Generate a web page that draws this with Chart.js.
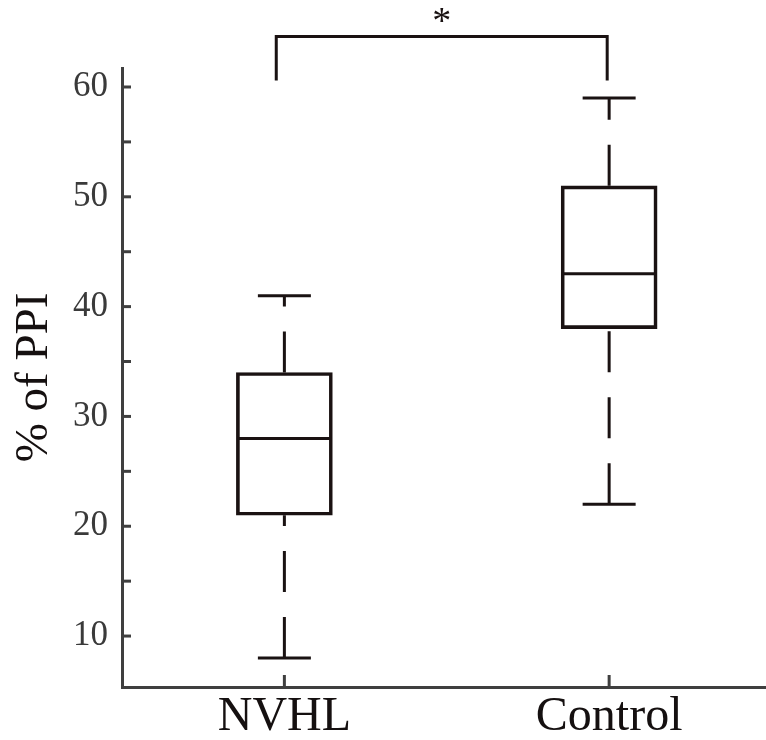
<!DOCTYPE html>
<html><head><meta charset="utf-8">
<script src="https://cdn.jsdelivr.net/npm/chart.js@4/dist/chart.umd.min.js"></script>
<style>html,body{margin:0;padding:0;background:#fff;overflow:hidden}#wrap{width:766px;height:740px}</style>
</head><body><div id="wrap"><canvas id="c" width="766" height="740"></canvas></div>
<script>
// ---- data ----
const categories = ['NVHL', 'Control'];
const whiskerLow  = [8, 22];
const quartile1   = [21, 38];
const medians     = [28, 43];
const quartile3   = [34, 51];
const whiskerHigh = [41, 59];
const yTickValues = [10, 15, 20, 25, 30, 35, 40, 45, 50, 55, 60];
const yLabelStep = 10;
const sigPair = [0, 1];
const sigLabel = '*';

// ---- style ----
const LINE = '#1a1212';
const AXIS = '#3f3f3f';
const SERIF = "'Liberation Serif', 'Times New Roman', serif";
const BOX_W = 96, CAP_W = 53, DASH = [41, 25];
const SIG_TOP = 64.6, SIG_BOTTOM = 60.6, SIG_DX = -0.025;

const boxParts = {
  id: 'boxParts',
  afterDatasetsDraw(chart) {
    const {ctx, scales: {x, y}, chartArea} = chart;
    ctx.save();
    // inward ticks
    ctx.strokeStyle = AXIS; ctx.lineWidth = 3; ctx.lineCap = 'butt';
    y.ticks.forEach(t => {
      const py = y.getPixelForValue(t.value);
      ctx.beginPath(); ctx.moveTo(chartArea.left, py); ctx.lineTo(chartArea.left + 9, py); ctx.stroke();
    });
    x.ticks.forEach(t => {
      const px = x.getPixelForValue(t.value);
      ctx.beginPath(); ctx.moveTo(px, chartArea.bottom); ctx.lineTo(px, chartArea.bottom - 12); ctx.stroke();
    });
    // box parts
    ctx.strokeStyle = LINE; ctx.lineWidth = 3;
    categories.forEach((c, i) => {
      const px = x.getPixelForValue(i + 1);
      const ym = y.getPixelForValue(medians[i]);
      ctx.beginPath(); ctx.moveTo(px - BOX_W / 2 + 1, ym); ctx.lineTo(px + BOX_W / 2 - 1, ym); ctx.stroke();
      ctx.setLineDash(DASH);
      ctx.beginPath(); ctx.moveTo(px, y.getPixelForValue(whiskerLow[i])); ctx.lineTo(px, y.getPixelForValue(quartile1[i])); ctx.stroke();
      ctx.beginPath(); ctx.moveTo(px, y.getPixelForValue(quartile3[i])); ctx.lineTo(px, y.getPixelForValue(whiskerHigh[i])); ctx.stroke();
      ctx.setLineDash([]);
      [whiskerLow[i], whiskerHigh[i]].forEach(v => {
        const pv = y.getPixelForValue(v);
        ctx.beginPath(); ctx.moveTo(px - CAP_W / 2, pv); ctx.lineTo(px + CAP_W / 2, pv); ctx.stroke();
      });
    });
    // significance bracket
    const xa = x.getPixelForValue(sigPair[0] + 1 + SIG_DX);
    const xb = x.getPixelForValue(sigPair[1] + 1 - 0.006);
    const yt = y.getPixelForValue(SIG_TOP), yb = y.getPixelForValue(SIG_BOTTOM);
    ctx.lineJoin = 'miter';
    ctx.beginPath(); ctx.moveTo(xa, yb); ctx.lineTo(xa, yt); ctx.lineTo(xb, yt); ctx.lineTo(xb, yb); ctx.stroke();
    ctx.fillStyle = LINE; ctx.font = '38px ' + SERIF; ctx.textAlign = 'center'; ctx.textBaseline = 'alphabetic';
    ctx.fillText(sigLabel, (xa + xb) / 2, yt - 3);
    ctx.restore();
  }
};

new Chart(document.getElementById('c'), {
  type: 'bar',
  data: {
    datasets: [{
      data: categories.map((c, i) => ({x: i + 1, y: [quartile1[i], quartile3[i]]})),
      backgroundColor: 'rgba(255,255,255,0)',
      borderColor: LINE,
      borderWidth: 3,
      borderSkipped: false,
      barThickness: BOX_W
    }]
  },
  options: {
    responsive: false,
    animation: false,
    devicePixelRatio: 1,
    layout: {padding: {top: 68, left: 0, right: 0, bottom: 0}},
    plugins: {legend: {display: false}, tooltip: {enabled: false}},
    scales: {
      x: {
        type: 'linear', min: 0.5, max: 2.483, offset: false,
        grid: {display: false, drawTicks: false, offset: false},
        border: {display: true, color: AXIS, width: 3},
        afterBuildTicks: s => { s.ticks = categories.map((c, i) => ({value: i + 1})); },
        afterFit: s => { s.height = 53; },
        ticks: {
          autoSkip: false, maxRotation: 0, padding: 2,
          color: '#151010', font: {family: SERIF, size: 48},
          callback: v => categories[v - 1]
        }
      },
      y: {
        type: 'linear', min: 5.36, max: 61.73, beginAtZero: false,
        grid: {display: false, drawTicks: false},
        border: {display: true, color: AXIS, width: 3},
        afterBuildTicks: s => { s.ticks = yTickValues.map(v => ({value: v})); },
        afterFit: s => { s.width = 122; },
        ticks: {
          autoSkip: false, padding: 14,
          color: '#3a3a3a', font: {family: SERIF, size: 35},
          callback: v => (v % yLabelStep === 0 ? String(v) : '')
        },
        title: {
          display: true, text: '% of PPI', color: '#151010',
          font: {family: SERIF, size: 47, lineHeight: 1},
          padding: {top: 11, bottom: 0}
        }
      }
    }
  },
  plugins: [boxParts]
});
</script></body></html>
